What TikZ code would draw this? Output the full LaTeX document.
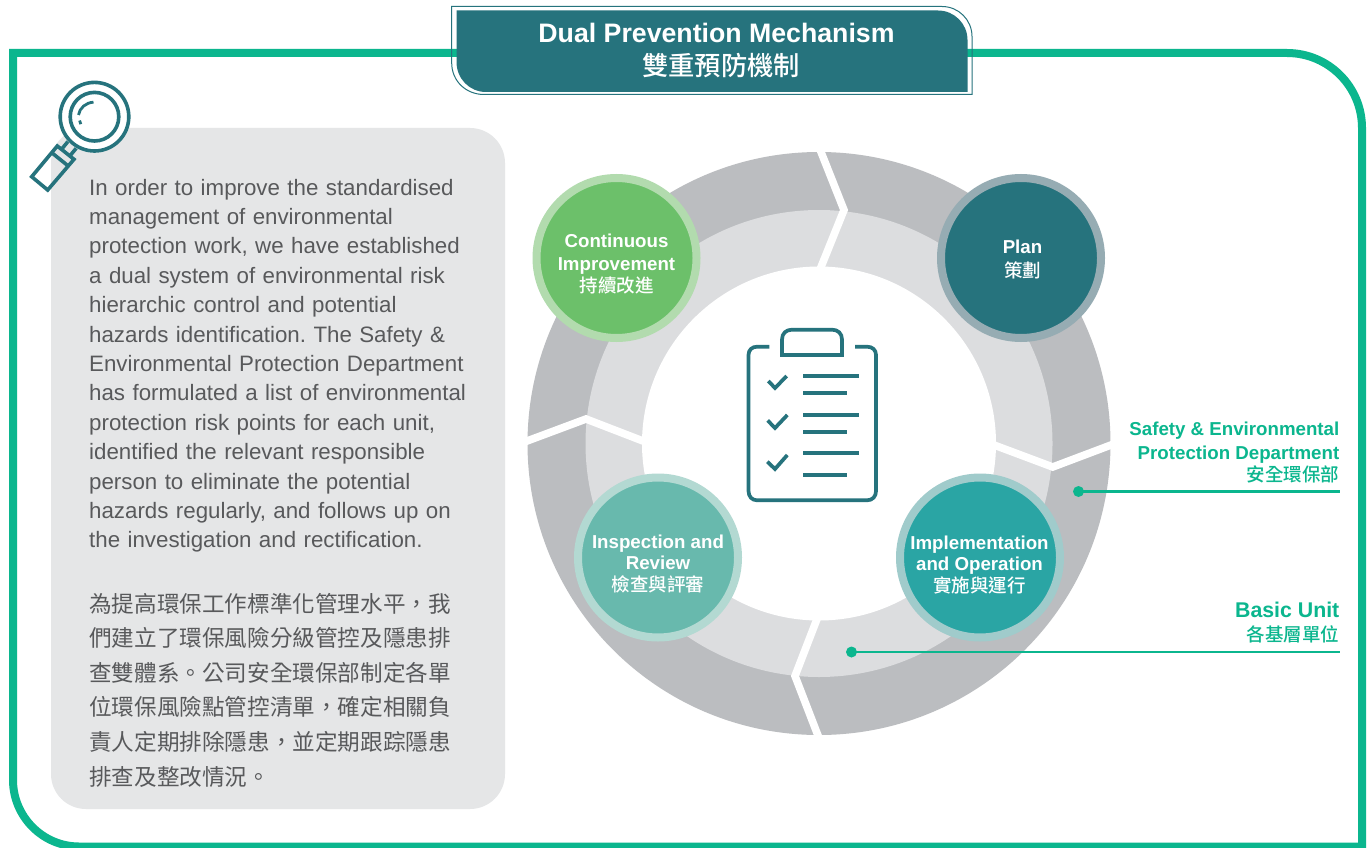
\documentclass[tikz,border=0pt]{standalone}
\usepackage{fontspec}
\setmainfont{Liberation Sans}
\newfontfamily\cjk{Noto Sans CJK TC}
\newfontfamily\cjkm{Noto Sans CJK TC Medium}
\newcommand{\lblcjk}{\cjkm\mdseries\fontsize{18.5}{20}\selectfont}
\definecolor{framegreen}{HTML}{0BB68E}
\definecolor{teal}{HTML}{26737D}
\definecolor{panelgray}{HTML}{E5E6E7}
\definecolor{ringouter}{HTML}{BBBDC0}
\definecolor{ringmid}{HTML}{DCDDDF}
\definecolor{bodytext}{HTML}{58595B}
\tikzset{
  x=1pt,y=-1pt,
  framepath/.style={draw=framegreen,line width=8pt,miter limit=10},
  icon/.style={draw=teal,line width=3.7pt},
  thinicon/.style={draw=teal,line width=3.6pt},
  cut/.style={draw=white,line width=7.6pt,miter limit=20},
  stage/.style={circle,minimum size=160pt,inner sep=0pt,line width=8pt},
  stagetext/.style={text=white,align=center,font=\fontsize{18.7}{22}\selectfont\bfseries,inner sep=0pt},
  sidetext/.style={text=framegreen,align=right,anchor=east,inner sep=0pt,font=\fontsize{18.7}{24}\selectfont\bfseries},
  dot/.style={circle,fill=framegreen,minimum size=11pt,inner sep=0pt},
  leader/.style={draw=framegreen,line width=2.6pt},
  bodypara/.style={text=bodytext,anchor=base west,inner sep=0pt,text width=420pt,align=left},
}
\begin{document}
\begin{tikzpicture}
\useasboundingbox (0,0) rectangle (1370,848);
\fill[white] (0,0) rectangle (1370,848);
% frame
\path[framepath] (13,53) -- (1287,53) .. controls (1328.4,53) and (1362,86.6) .. (1362,128)
  -- (1362,846.5) -- (79,846.5) .. controls (42.6,846.5) and (13,816.4) .. (13,780) -- cycle;
% title box
\fill[teal] (456.5,10.5) -- (938,10.5) .. controls (954.3,10.5) and (967.5,23.7) .. (967.5,40)
  -- (967.5,92) -- (486,92) .. controls (469.7,92) and (456.5,78.8) .. (456.5,62) -- cycle;
\draw[teal,line width=1pt] (451.7,6.5) -- (942,6.5) .. controls (958.6,6.5) and (972,19.9) .. (972,36.5)
  -- (972,94.5) -- (484,94.5) .. controls (466,94.5) and (451.7,81) .. (451.7,63) -- cycle;
\node[text=white,align=center,inner sep=0pt,font=\fontsize{26.7}{32.5}\selectfont\bfseries] (title) at (716.5,50.5)
  {Dual Prevention Mechanism\\\hspace*{9pt}{\cjkm\mdseries\fontsize{26.3}{32}\selectfont 雙重預防機制}};
% gray panel
\fill[panelgray,rounded corners=35pt] (51,128) rectangle (505,809);
% magnifier
\fill[white] (94.5,116.7) circle[radius=36pt];
\draw[thinicon] (94.5,116.7) circle[radius=34.3pt];
\draw[thinicon] (94.5,116.7) circle[radius=24.3pt];
\draw[draw=teal,line width=2.8pt] (93.5,102.2) .. controls (86,102.5) and (79.5,108) .. (78.5,115);
\draw[draw=teal,line width=2.8pt] (79.6,120.5) -- (80.8,124.2);
\draw[thinicon,line join=miter] (31.7,176.7) -- (47.7,190) -- (74,159.3) -- (57.3,146) -- cycle;
\draw[thinicon] (51.7,152.7) -- (68.3,166);
\draw[thinicon] (67.9,141.6) -- (61.5,149.3);
\draw[thinicon] (76.2,148.3) -- (69.8,156);
% ring
\fill[ringouter] (819,443.5) circle[radius=291.5pt];
\fill[ringmid] (819,443.5) circle[radius=233.5pt];
\fill[white] (819,443.5) circle[radius=177pt];
\draw[cut] (817,142) -- (821,152) -- (844,210) -- (821,267) -- (817,277);
\draw[cut] (515,445.5) -- (527,441) -- (586,419) -- (643,441) -- (655,445.5);
\draw[cut] (982,440.5) -- (994,445) -- (1052.7,467) -- (1111,445) -- (1123,440.5);
\draw[cut] (821,609) -- (817,619) -- (795,676) -- (817,733) -- (821,743);
% stages
\node[stage,draw={rgb,255:red,178;green,219;blue,174},fill={rgb,255:red,108;green,192;blue,106}] (improve) at (616.5,258) {};
\node[stage,draw={rgb,255:red,150;green,172;blue,179},fill=teal] (plan) at (1021,258) {};
\node[stage,draw={rgb,255:red,179;green,217;blue,210},fill={rgb,255:red,104;green,185;blue,173}] (review) at (658,557.5) {};
\node[stage,draw={rgb,255:red,160;green,203;blue,203},fill={rgb,255:red,42;green,165;blue,164}] (operate) at (980,557.5) {};
\node[stagetext] (improvetext) at (616.5,263.8) {Continuous\\[1pt]Improvement\\[0pt]{\lblcjk 持續改進}};
\node[stagetext] (plantext) at (1022.5,259.7) {Plan\\[2pt]{\lblcjk 策劃}};
\node[stagetext] (reviewtext) at (658,564.5) {Inspection and\\[-1pt]Review\\[0pt]{\lblcjk 檢查與評審}};
\node[stagetext] (operatetext) at (979.5,565.5) {Implementation\\[-1pt]and Operation\\[0pt]{\lblcjk 實施與運行}};
% clipboard
\draw[icon] (769.3,346.7) -- (757,346.7) .. controls (752,346.7) and (748.5,350) .. (748.5,355)
  -- (748.5,491) .. controls (748.5,496.5) and (752,500.3) .. (757,500.3)
  -- (867,500.3) .. controls (872.5,500.3) and (876,496.5) .. (876,491)
  -- (876,355) .. controls (876,350) and (872.5,346.7) .. (867,346.7) -- (855,346.7);
\draw[icon] (782,355) -- (782,339.5) .. controls (782,333.5) and (786,329.7) .. (792,329.7)
  -- (832,329.7) .. controls (838,329.7) and (842,333.5) .. (842,339.5) -- (842,355) -- cycle;
\draw[icon] (768.3,381) -- (775,388) -- (786.7,376);
\draw[icon] (767.7,420.5) -- (775,428) -- (787.3,415);
\draw[icon] (767.3,461.7) -- (775,469) -- (787.3,455);
\draw[icon] (803.3,376) -- (859.3,376);
\draw[icon] (803.3,393.3) -- (846.7,393.3);
\draw[icon] (803.3,415) -- (859.3,415);
\draw[icon] (803.3,432) -- (846.7,432);
\draw[icon] (803.3,453.3) -- (859.3,453.3);
\draw[icon] (803.3,474.7) -- (846.7,474.7);
% side labels and leaders
\node[sidetext] (safety) at (1339.5,452.5) {Safety \& Environmental\\Protection Department\\[-2pt]{\lblcjk 安全環保部}};
\node[dot] (safetydot) at (1078.5,491.5) {};
\coordinate (safetyend) at (1339.5,491.5);
\draw[leader] (safetydot.center) -- (safetyend);
\node[sidetext] (basic) at (1339.5,623) {{\fontsize{21.3}{24}\selectfont Basic Unit}\\[0pt]{\lblcjk 各基層單位}};
\node[dot] (basicdot) at (851.5,652) {};
\coordinate (basicend) at (1339.5,652);
\draw[leader] (basicdot.center) -- (basicend);
% body text
\node[bodypara,font=\fontsize{22.3}{29.4}\selectfont\frenchspacing] (english) at (89,195)
  {In order to improve the standardised\\management of environmental\\protection work, we have established\\a dual system of environmental risk\\hierarchic control and potential\\hazards identification. The Safety \&\\Environmental Protection Department\\has formulated a list of environmental\\protection risk points for each unit,\\identified the relevant responsible\\person to eliminate the potential\\hazards regularly, and follows up on\\the investigation and rectification.};
\node[bodypara,font=\cjk\fontsize{22.6}{34.6}\selectfont] (chinese) at (89,612)
  {為提高環保工作標準化管理水平，我\\們建立了環保風險分級管控及隱患排\\查雙體系。公司安全環保部制定各單\\位環保風險點管控清單，確定相關負\\責人定期排除隱患，並定期跟踪隱患\\排查及整改情況。};
\end{tikzpicture}
\end{document}
